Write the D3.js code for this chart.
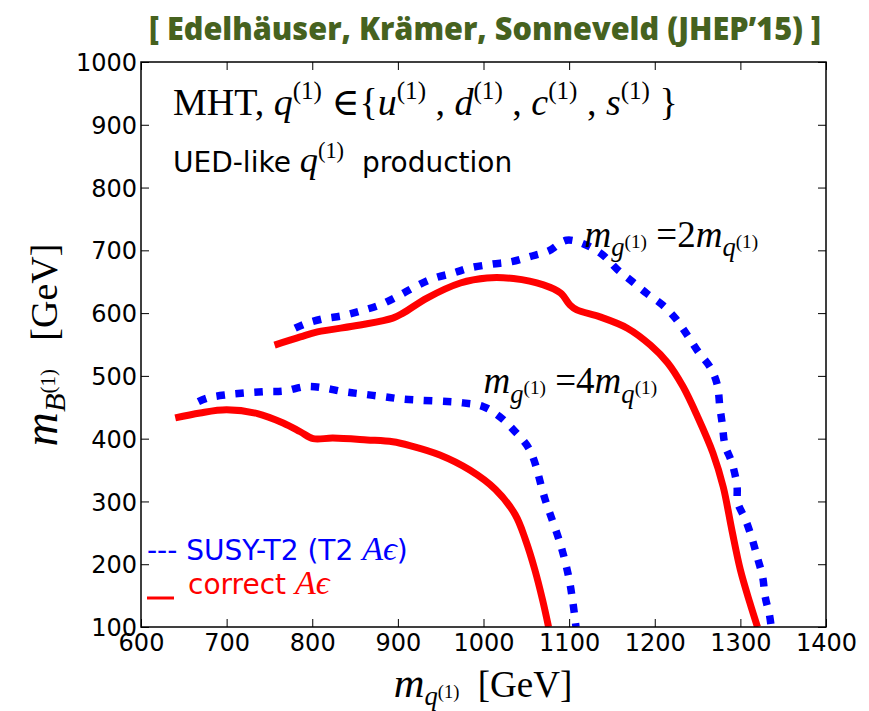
<!DOCTYPE html>
<html>
<head>
<meta charset="utf-8">
<script src="https://cdn.jsdelivr.net/npm/d3@7"></script>
<style>
  html, body { margin: 0; padding: 0; background: #fff; }
  svg { display: block; }
</style>
</head>
<body>
<svg id="chart" width="869" height="711"></svg>
<script>
// Exclusion contours in the (m_q(1), m_B(1)) plane, values in GeV.
const xTicks = [600, 700, 800, 900, 1000, 1100, 1200, 1300, 1400];
const yTicks = [100, 200, 300, 400, 500, 600, 700, 800, 900, 1000];

// m_g(1) = 2 m_q(1), correct acceptance x efficiency
const red2Pts = [
  [756, 549], [786, 562], [806, 570], [856, 581], [894, 592], [906, 600],
  [934, 624], [973, 648], [1004, 656], [1035, 655], [1070, 645], [1090, 632],
  [1101, 613], [1109, 605], [1136, 594], [1168, 576], [1195, 549], [1215, 521],
  [1233, 483], [1250, 435], [1268, 377], [1280, 323], [1290, 255], [1300, 191],
  [1311, 139], [1320, 100]
];
// m_g(1) = 2 m_q(1), SUSY-T2 acceptance x efficiency
const blue2Pts = [
  [780, 576], [792, 583], [813, 591], [836, 596], [858, 604], [879, 613],
  [900, 627], [920, 642], [941, 655], [965, 664], [984, 672], [1010, 678],
  [1033, 682], [1054, 690], [1076, 699], [1097, 716], [1119, 709], [1139, 693],
  [1156, 670], [1174, 650], [1191, 631], [1209, 613], [1224, 592], [1238, 565],
  [1251, 538], [1265, 513], [1273, 486], [1276, 451], [1279, 422], [1282, 390],
  [1290, 362], [1296, 326], [1297, 298], [1306, 271], [1314, 239], [1320, 210],
  [1326, 180], [1329, 148], [1334, 119], [1336, 100]
];
// m_g(1) = 4 m_q(1), correct acceptance x efficiency
const red4Pts = [
  [640, 433], [669, 441], [700, 446], [736, 440], [766, 425], [786, 411],
  [801, 400], [824, 401], [864, 398], [894, 395], [914, 389], [949, 374],
  [984, 350], [1014, 319], [1037, 279], [1049, 239], [1060, 191], [1069, 143],
  [1076, 100]
];
// m_g(1) = 4 m_q(1), SUSY-T2 acceptance x efficiency
const blue4Pts = [
  [667, 459], [678, 465], [701, 470], [724, 473], [747, 475], [768, 476],
  [792, 483], [813, 481], [836, 475], [859, 471], [883, 467], [906, 463],
  [976, 457], [1000, 451], [1019, 435], [1035, 414], [1054, 382], [1072, 303],
  [1090, 231], [1099, 183], [1104, 143], [1108, 100]
];

const svg = d3.select("#chart");
const plot = { left: 141, right: 826, top: 62, bottom: 627 };

const x = d3.scaleLinear().domain([600, 1400]).range([plot.left, plot.right]);
const y = d3.scaleLinear().domain([100, 1000]).range([plot.bottom, plot.top]);

const SANS = "'DejaVu Sans', sans-serif";
const MATH = "'Liberation Serif', 'DejaVu Serif', serif";
const SP = "\u00a0";

// Build a run of math-like text: parts are [text, italic?, shift(em, +down), scale, family?]
function mathText(sel, px, py, size, parts, opts = {}) {
  const t = sel.append("text")
    .attr("x", px).attr("y", py)
    .attr("font-size", size)
    .attr("fill", opts.fill || "#000")
    .attr("font-family", MATH);
  if (opts.anchor) t.attr("text-anchor", opts.anchor);
  if (opts.transform) t.attr("transform", opts.transform);
  let prev = 0;
  parts.forEach(p => {
    const [txt, it, sh = 0, sc = 1, fam] = p;
    const s = t.append("tspan")
      .text(txt)
      .attr("font-size", size * sc)
      .attr("font-style", it ? "italic" : "normal")
      .attr("dy", (sh - prev) * size);
    if (fam) s.attr("font-family", fam);
    prev = sh;
  });
  return t;
}

// Title
svg.append("text")
  .attr("x", 485).attr("y", 40)
  .attr("text-anchor", "middle")
  .attr("font-family", "'Open Sans', Lato, sans-serif")
  .attr("font-weight", 800)
  .attr("font-size", 31)
  .attr("fill", "#46621f")
  .attr("textLength", 672)
  .attr("lengthAdjust", "spacingAndGlyphs")
  .text("[ Edelhäuser, Krämer, Sonneveld (JHEP’15) ]");

// Axes with inward ticks on every side
const gx = svg.append("g").attr("transform", `translate(0,${plot.bottom})`)
  .call(d3.axisBottom(x).tickValues(xTicks).tickSize(-8).tickPadding(7).tickFormat(d3.format("d")));
const gxt = svg.append("g").attr("transform", `translate(0,${plot.top})`)
  .call(d3.axisTop(x).tickValues(xTicks).tickSize(-8).tickFormat(""));
const gy = svg.append("g").attr("transform", `translate(${plot.left},0)`)
  .call(d3.axisLeft(y).tickValues(yTicks).tickSize(-8).tickPadding(4).tickFormat(d3.format("d")));
const gyr = svg.append("g").attr("transform", `translate(${plot.right},0)`)
  .call(d3.axisRight(y).tickValues(yTicks).tickSize(-8).tickFormat(""));

[gx, gxt, gy, gyr].forEach(g => {
  g.select(".domain").remove();
  g.selectAll(".tick line").attr("stroke", "#000").attr("stroke-width", 1);
  g.selectAll(".tick text")
    .attr("font-family", SANS)
    .attr("font-size", 24)
    .attr("fill", "#000");
});
gy.selectAll(".tick text").attr("dy", "0.36em");

// Clip the contours to the frame
svg.append("clipPath").attr("id", "frame-clip")
  .append("rect")
  .attr("x", plot.left).attr("y", plot.top)
  .attr("width", plot.right - plot.left).attr("height", plot.bottom - plot.top);

const line = d3.line().x(d => x(d[0])).y(d => y(d[1])).curve(d3.curveCatmullRom.alpha(0.5));
const curves = svg.append("g").attr("clip-path", "url(#frame-clip)");

const solid = { stroke: "#ff0000", width: 7, dash: null };
const dotted = { stroke: "#0000ff", width: 7.5, dash: "8.5,10.5" };
[[red2Pts, solid], [red4Pts, solid], [blue2Pts, dotted], [blue4Pts, dotted]].forEach(([pts, st]) => {
  curves.append("path")
    .datum(pts)
    .attr("d", line)
    .attr("fill", "none")
    .attr("stroke", st.stroke)
    .attr("stroke-width", st.width)
    .attr("stroke-linejoin", "round")
    .attr("stroke-dasharray", st.dash);
});

// Frame
svg.append("rect")
  .attr("x", plot.left).attr("y", plot.top)
  .attr("width", plot.right - plot.left).attr("height", plot.bottom - plot.top)
  .attr("fill", "none").attr("stroke", "#000").attr("stroke-width", 1.5);

// In-plot annotations
const SUP = -0.42, SUPS = 0.66;
mathText(svg, 173, 115, 38, [
  ["MHT", false], [", ", false], ["q", true], ["(1)", false, SUP, SUPS],
  [" ∈{", false], ["u", true], ["(1)", false, SUP, SUPS], [" , ", false],
  ["d", true], ["(1)", false, SUP, SUPS], [" , ", false],
  ["c", true], ["(1)", false, SUP, SUPS], [" , ", false],
  ["s", true], ["(1)", false, SUP, SUPS], [" }", false]
]);

mathText(svg, 173, 172, 28, [
  ["UED-like" + SP, false, 0, 1, SANS], ["q", true, 0, 1.3], ["(1)", false, -0.5, 0.8],
  [SP + SP + "production", false, 0, 1, SANS]
]);

mathText(svg, x(1118), y(705), 37, [
  ["m", true], ["g", true, 0.25, 0.72], ["(1)", false, 0.02, 0.52], [" =2", false, 0],
  ["m", true], ["q", true, 0.25, 0.72], ["(1)", false, 0.02, 0.52]
]);

mathText(svg, x(1000), y(472), 37, [
  ["m", true], ["g", true, 0.25, 0.72], ["(1)", false, 0.02, 0.52], [" =4", false, 0],
  ["m", true], ["q", true, 0.25, 0.72], ["(1)", false, 0.02, 0.52]
]);

// Legend
mathText(svg, 147, 560, 28, [
  ["---" + SP + "SUSY-T2" + SP + "(T2" + SP, false, 0, 1, SANS],
  ["Aϵ", true, 0, 1.22], [")", false, 0, 1, SANS]
], { fill: "#0000ff" });
svg.append("line")
  .attr("x1", 147).attr("x2", 174).attr("y1", 598).attr("y2", 598)
  .attr("stroke", "#ff0000").attr("stroke-width", 3);
mathText(svg, 188, 594, 28, [
  ["correct" + SP, false, 0, 1, SANS], ["Aϵ", true, 0, 1.22]
], { fill: "#ff0000" });

// Axis titles
mathText(svg, 483, 697, 37, [
  ["m", true, 0, 1.15], ["q", true, 0.22, 0.72], ["(1)", false, 0.02, 0.5],
  [SP + SP + "[GeV]", false, 0]
], { anchor: "middle" });

mathText(svg, 0, 0, 38, [
  ["m", true, 0, 1.25], ["B", true, 0.22, 0.8], ["(1)", false, -0.05, 0.55],
  [SP + SP + SP + "[GeV]", false, 0]
], { anchor: "middle", transform: "translate(57,345) rotate(-90)" });
</script>
</body>
</html>
